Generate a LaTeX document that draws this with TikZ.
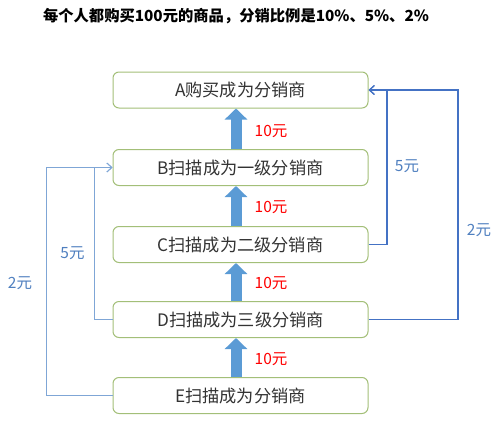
\documentclass[tikz,border=0pt]{standalone}
\usepackage{fontspec}
\setmainfont{Noto Sans CJK SC}
\newfontfamily\cjk{Noto Sans CJK SC}
\usetikzlibrary{arrows.meta,calc}
\definecolor{boxgreen}{HTML}{A3BF78}
\definecolor{bigblue}{HTML}{5B9BD5}
\definecolor{darkline}{HTML}{4472C4}
\definecolor{lightline}{HTML}{7FA6D6}
\definecolor{labelblue}{HTML}{4F7FBF}
\definecolor{labelred}{HTML}{FF0000}
\definecolor{boxtext}{HTML}{333333}
\tikzset{
  stagebox/.style={draw=boxgreen, line width=1pt, rounded corners=6pt, fill=white,
    minimum width=255pt, minimum height=36pt, inner sep=0pt,
    font=\cjk\fontsize{17.2}{19}\selectfont, text=boxtext},
  bigarrow/.style={draw=bigblue, line width=11pt, line cap=butt,
    -{Triangle[width=22pt,length=11pt]}},
  darkconn/.style={draw=darkline, line width=1.2pt, -{Straight Barb[length=5pt,width=9pt]}},
  lightconn/.style={draw=lightline, line width=0.9pt, -{Straight Barb[length=5pt,width=9pt]}},
  redlabel/.style={text=labelred, font=\cjk\fontsize{15.5}{17}\selectfont, inner sep=0pt},
  bluelabel/.style={text=labelblue, font=\cjk\fontsize{15.5}{17}\selectfont, inner sep=0pt},
}
\begin{document}
\begin{tikzpicture}[x=1pt,y=-1pt]
\useasboundingbox (0,0) rectangle (500,423);
\node[font=\cjk\bfseries\fontsize{15.3}{17}\selectfont, inner sep=0pt] (title) at (236,16) {每个人都购买100元的商品，分销比例是10\%、5\%、2\%};

\node[stagebox] (A) at (240.5,90) {A购买成为分销商};
\node[stagebox] (B) at (240.5,167.5) {B扫描成为一级分销商};
\node[stagebox] (C) at (240.5,244.5) {C扫描成为二级分销商};
\node[stagebox] (D) at (240.5,319.5) {D扫描成为三级分销商};
\node[stagebox] (E) at (240.5,395.5) {E扫描成为分销商};

\draw[bigarrow] ($(B.north)+(-4.5,0)$) -- ($(A.south)+(-4.5,0)$);
\draw[bigarrow] ($(C.north)+(-4.5,0)$) -- ($(B.south)+(-4.5,0)$);
\draw[bigarrow] ($(D.north)+(-4.5,0)$) -- ($(C.south)+(-4.5,0)$);
\draw[bigarrow] ($(E.north)+(-4.5,0)$) -- ($(D.south)+(-4.5,0)$);

\node[redlabel] (l1) at (271,131) {10元};
\node[redlabel] (l2) at (271,207) {10元};
\node[redlabel] (l3) at (271,283) {10元};
\node[redlabel] (l4) at (271,359) {10元};

\coordinate (rc) at (387,0);
\coordinate (rd) at (458,0);
\draw[darkconn] (C.east) -- (C.east -| rc) -- (A.east -| rc) -- (A.east);
\draw[darkconn] (D.east) -- (D.east -| rd) -- (A.east -| rd) -- (A.east);

\coordinate (ld) at (94,0);
\coordinate (le) at (46,0);
\draw[lightconn] (D.west) -- (D.west -| ld) -- (B.west -| ld) -- (B.west);
\draw[lightconn] (E.west) -- (E.west -| le) -- (B.west -| le) -- (B.west);

\node[bluelabel] (r5) at (407,166) {5元};
\node[bluelabel] (r2) at (479,230) {2元};
\node[bluelabel] (g5) at (72.5,253) {5元};
\node[bluelabel] (g2) at (20,283) {2元};
\end{tikzpicture}
\end{document}
